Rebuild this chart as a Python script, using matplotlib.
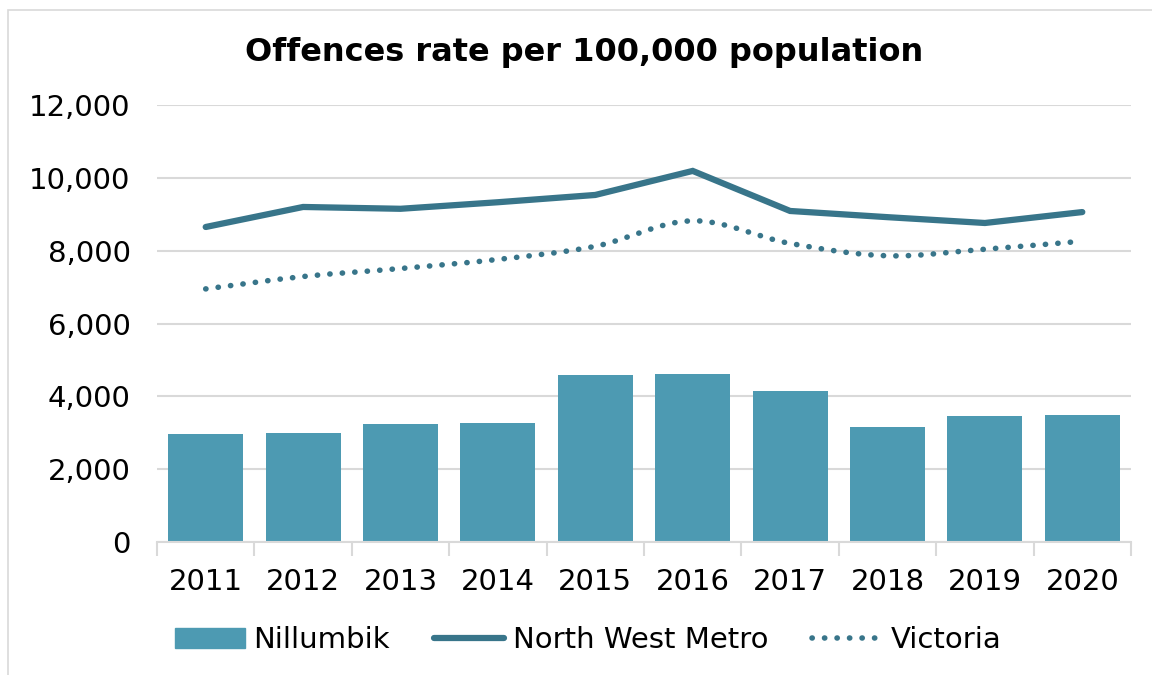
import numpy as np
import matplotlib
matplotlib.use("Agg")
import matplotlib.pyplot as plt
from matplotlib.path import Path
from matplotlib.patches import PathPatch, Rectangle
from matplotlib.lines import Line2D
from matplotlib.ticker import FuncFormatter, FixedLocator

years = ["2011", "2012", "2013", "2014", "2015", "2016", "2017", "2018", "2019", "2020"]
nillumbik = [2970, 2990, 3240, 3270, 4590, 4600, 4150, 3160, 3460, 3490]
north_west_metro = [8650, 9200, 9150, 9330, 9530, 10190, 9090, 8920, 8760, 9060]
victoria = [6950, 7290, 7510, 7760, 8120, 8820, 8200, 7860, 8040, 8260]

bar_color = "#4d9ab2"
line_color = "#38758a"
grid_color = "#d9d9d9"
dot_style = (0, (0.05, 2.2))

plt.rcParams["font.family"] = ["DejaVu Sans"]


def smooth_path(xs, ys, tension=1 / 6):
    # Catmull-Rom style bezier segments through every point
    xs = np.asarray(xs, float)
    ys = np.asarray(ys, float)
    n = len(xs)
    verts = [(xs[0], ys[0])]
    codes = [Path.MOVETO]
    for i in range(n - 1):
        p0 = max(i - 1, 0)
        p3 = min(i + 2, n - 1)
        c1 = (xs[i] + (xs[i + 1] - xs[p0]) * tension, ys[i] + (ys[i + 1] - ys[p0]) * tension)
        c2 = (xs[i + 1] - (xs[p3] - xs[i]) * tension, ys[i + 1] - (ys[p3] - ys[i]) * tension)
        verts += [c1, c2, (xs[i + 1], ys[i + 1])]
        codes += [Path.CURVE4] * 3
    return Path(verts, codes)


fig = plt.figure(figsize=(11.52, 6.75), dpi=100)
fig.patches.append(Rectangle((8 / 1152, -0.1), 1.2, 1.1 - 10 / 675, transform=fig.transFigure,
                             fill=False, edgecolor="#d9d9d9", linewidth=1.2))

ax = fig.add_axes([157 / 1152, 1 - 542 / 675, (1131 - 157) / 1152, (542 - 105) / 675])
x = np.arange(len(years))

ax.bar(x, nillumbik, width=0.77, color=bar_color, zorder=2, label="Nillumbik")
ax.plot(x, north_west_metro, color=line_color, linewidth=4.5, solid_capstyle="round",
        solid_joinstyle="miter", zorder=3, label="North West Metro")
vic_patch = PathPatch(smooth_path(x, victoria), fill=False, edgecolor=line_color, linewidth=4,
                      linestyle=dot_style, capstyle="round", zorder=3)
ax.add_patch(vic_patch)

ax.set_xlim(-0.5, len(years) - 0.5)
ax.set_ylim(0, 12000)
ax.set_yticks(np.arange(0, 12001, 2000))
ax.yaxis.set_major_formatter(FuncFormatter(lambda v, p: f"{int(v):,}"))
ax.grid(axis="y", color=grid_color, linewidth=1.5, zorder=0)
ax.set_axisbelow(True)

ax.set_xticks(x)
ax.set_xticklabels(years)
ax.xaxis.set_minor_locator(FixedLocator(np.arange(-0.5, len(years), 1)))
ax.tick_params(axis="x", which="major", length=0, pad=19, labelsize=21)
ax.tick_params(axis="x", which="minor", length=10, color=grid_color, width=1.5)
ax.tick_params(axis="y", length=0, pad=19, labelsize=21)
for side in ["top", "right", "left"]:
    ax.spines[side].set_visible(False)
ax.spines["bottom"].set_color(grid_color)
ax.spines["bottom"].set_linewidth(1.5)

fig.text(584 / 1152, 1 - 53 / 675, "Offences rate per 100,000 population", ha="center", va="center",
         fontsize=23, fontweight="bold")

handles = [
    Rectangle((0, 0), 1, 1, color=bar_color),
    Line2D([], [], color=line_color, linewidth=4.5, solid_capstyle="round"),
    Line2D([], [], color=line_color, linewidth=4, linestyle=dot_style, dash_capstyle="round"),
]
fig.legend(handles, ["Nillumbik", "North West Metro", "Victoria"], loc="center",
           bbox_to_anchor=(588 / 1152, 1 - 640 / 675), ncol=3, frameon=False, fontsize=21,
           handlelength=2.4, handletextpad=0.3, columnspacing=1.5)

fig.savefig("out.png", dpi=100)
